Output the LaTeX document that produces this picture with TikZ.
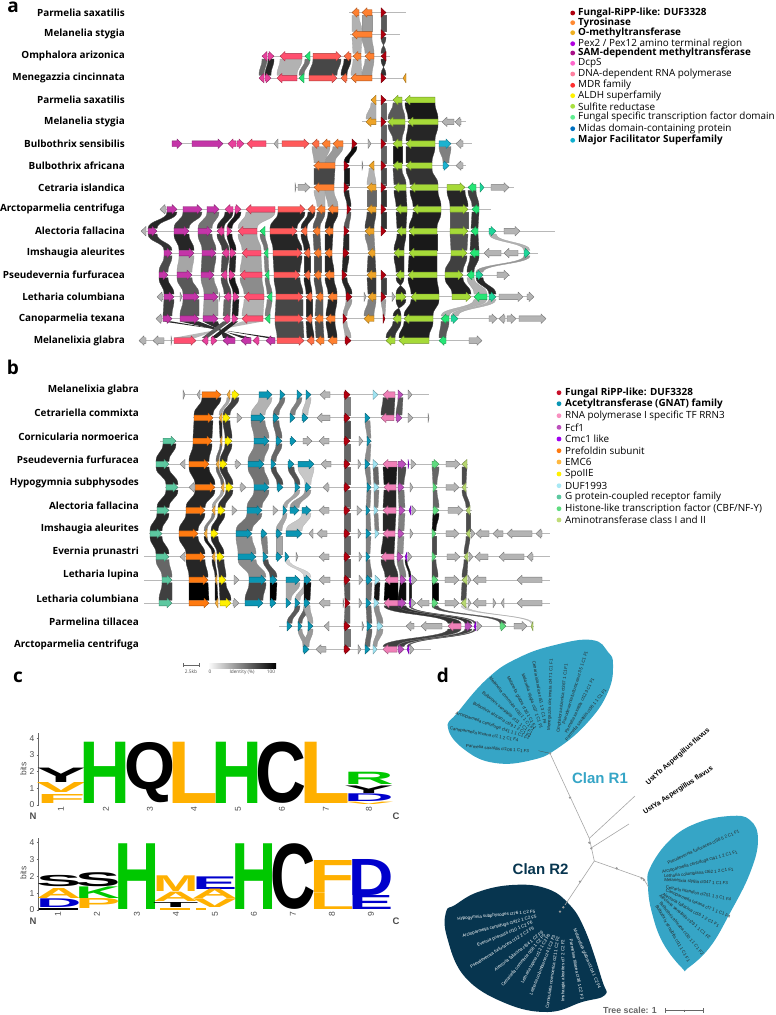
\documentclass[tikz,border=0pt]{standalone}
\usepackage{fontspec}
\usepackage{graphicx}
\setmainfont{Open Sans}
\newfontfamily\logofont{Liberation Sans}
\definecolor{duf}{HTML}{B0000F}
\definecolor{tyr}{HTML}{FF8030}
\definecolor{ora}{HTML}{FF6F45}
\definecolor{omt}{HTML}{EEA428}
\definecolor{sam}{HTML}{C435A8}
\definecolor{dcp}{HTML}{E8409C}
\definecolor{rna}{HTML}{FF4F70}
\definecolor{mdr}{HTML}{FF5A5A}
\definecolor{grn}{HTML}{25E675}
\definecolor{sul}{HTML}{A6DA38}
\definecolor{mfs}{HTML}{1CB2D0}
\definecolor{mid}{HTML}{1FD69A}
\definecolor{gry}{HTML}{B4B4B4}
\definecolor{gpc}{HTML}{5CC8A0}
\definecolor{pfd}{HTML}{FF7A10}
\definecolor{emc}{HTML}{F8B040}
\definecolor{spo}{HTML}{FFF000}
\definecolor{gna}{HTML}{0A96B4}
\definecolor{cya}{HTML}{A0E4F2}
\definecolor{rrn}{HTML}{F080B8}
\definecolor{fcf}{HTML}{BC50BC}
\definecolor{cmc}{HTML}{A000F0}
\definecolor{his}{HTML}{60DC80}
\definecolor{ami}{HTML}{B8D870}
\definecolor{clanone}{HTML}{36A5C6}
\definecolor{clantwo}{HTML}{07354F}
\definecolor{lgreen}{HTML}{00C800}
\definecolor{lgold}{HTML}{FFB000}
\definecolor{lblue}{HTML}{0000CC}
\tikzset{
  genebox/.style={line width=0.4pt, line join=round},
  rowln/.style={draw=black!28, line width=0.8pt},
  spname/.style={anchor=east, inner sep=0pt, font=\fontsize{9.9}{11}\selectfont\bfseries},
  leg/.style={anchor=west, inner sep=0pt, font=\fontsize{9.9}{11}\selectfont},
  legb/.style={leg, font=\fontsize{9.9}{11}\selectfont\bfseries},
  panel/.style={inner sep=0pt, font=\fontsize{19}{20}\selectfont\bfseries},
  ticknum/.style={inner sep=0pt, text=black!70, font=\logofont\fontsize{8.5}{9}\selectfont},
  tinynum/.style={inner sep=0pt, text=black!70, font=\fontsize{4.8}{5}\selectfont},
  endlabel/.style={inner sep=0pt, text=black!70, font=\logofont\bfseries\fontsize{9.5}{10}\selectfont},
  tipblack/.style={inner sep=0pt, text=black!85, font=\logofont\fontsize{4.4}{5}\selectfont},
  tipwhite/.style={inner sep=0pt, text=white, font=\logofont\fontsize{4.4}{5}\selectfont},
  treeln/.style={draw=black!35, line width=0.6pt},
}
\newif\ifgenepass
\newcommand{\gene}[4]{%
  \ifgenepass
  \pgfmathsetmacro\yy{\yzero+\ystep*#1}
  \pgfmathsetmacro\xh{#3-ifthenelse(#3>#2,1,-1)*min(5,abs(#3-#2))}
  \filldraw[genebox, fill=#4, draw=#4!65!black] (#2,\yy-2.8) -- (\xh,\yy-2.8) -- (\xh,\yy-4.8) -- (#3,\yy) -- (\xh,\yy+4.8) -- (\xh,\yy+2.8) -- (#2,\yy+2.8) -- cycle;
  \fi
}
\newcommand{\genes}[3]{\foreach \xa/\xb in {#3} {\gene{#1}{\xa}{\xb}{#2}}}
\newcommand{\band}[7]{%
  \ifgenepass\else
  \pgfmathsetmacro\ya{\yzero+\ystep*#1+2.8}
  \pgfmathsetmacro\yb{\yzero+\ystep*#4-2.8}
  \pgfmathsetmacro\ym{(\ya+\yb)/2}
  \filldraw[fill=black!#7, draw=black!#7!white!70!gray, line width=0.3pt] (#2,\ya) .. controls (#2,\ym) and (#5,\ym) .. (#5,\yb) -- (#6,\yb) .. controls (#6,\ym) and (#3,\ym) .. (#3,\ya) -- cycle;
  \fi
}
\newcommand{\sband}[7]{%
  \ifgenepass\else
  \pgfmathsetmacro\ya{\yzero+\ystep*#1+2.8}
  \pgfmathsetmacro\yb{\yzero+\ystep*#4-2.8}
  \fill[black!#7] (#2,\ya) -- (#5,\yb) -- (#6,\yb) -- (#3,\ya) -- cycle;
  \fi
}
\newcommand{\genecol}[3]{%
  \foreach \xa/\xb/\gr [count=\rw from #1, remember=\xa as \pxa, remember=\xb as \pxb, remember=\gr as \pgr, remember=\rw as \prw] in {#3} {
    \ifnum\rw>#1 \band{\prw}{\pxa}{\pxb}{\rw}{\xa}{\xb}{\pgr}\fi
    \gene{\rw}{\xa}{\xb}{#2}
  }
}
\newcommand{\rowlines}[1]{%
  \foreach \rw/\xa/\xb in {#1} {
    \pgfmathsetmacro\yy{\yzero+\ystep*\rw}
    \draw[rowln] (\xa,\yy) -- (\xb,\yy);
  }
}
\newcommand{\lch}[6]{%
  \pgfmathsetmacro\lh{#3-#4}
  \pgfmathsetmacro\lw{#2*1.16}
  \node[anchor=south west, inner sep=0pt, text=#6] (lg#1#5) at ({#1-#2*0.08},#3) {\resizebox*{\lw pt}{\lh pt}{\logofont\bfseries #5}};
}
\newcommand{\genesa}{%
\band{0}{359}{352}{1}{362}{352}{30}
\band{0}{372}{362}{1}{372}{362}{38}
\band{1}{362}{352}{2}{361}{353}{30}
\band{1}{372}{362}{2}{374}{365}{38}
\band{2}{361}{353}{3}{362}{351}{30}
\band{2}{374}{365}{3}{372}{362}{38}
\genes{0}{tyr}{359/352,372/362}
\genes{1}{tyr}{372/352}
\genes{2}{tyr}{361/353,374/365}
\genes{3}{tyr}{372/351}
\genes{3}{omt}{406/403}
\genecol{0}{duf}{381/386/65,381/386/72,386/381/80,381/386/0}
\genecol{2}{dcp}{267/262/60,264/259/0}
\genecol{2}{dcp}{268/274/85,265/271/0}
\genecol{2}{rna}{302/280/30,297/277/0}
\genecol{2}{grn}{310/305/55,304/299/0}
\genecol{2}{mdr}{313/341/72,309/337/0}
\genecol{2}{ora}{351/344/85,347/341/0}
\genecol{4}{omt}{376/371/32,376/366/0}
\genecol{7}{omt}{374/369/30,376/367/60,376/367/75,374/365/50,375/368/75,376/367/78,376/368/50,374/364/0}
\genecol{4}{duf}{381/386/60,381/386/62,381/386/62,381/386/70,381/386/80,381/386/80,381/386/0}
\genecol{12}{duf}{381/386/75,381/386/38,383/385/0}
\genecol{6}{duf}{352/357/95,344/349/90,344/349/85,347/351/65,344/349/85,343/349/85,342/347/85,346/352/40,343/347/35,345/351/0}
\genecol{4}{sul}{402/393/65,405/388/70,402/393/92,402/393/75,406/394/85,407/396/85,406/397/85,404/394/85,404/396/85,396/406/85,401/393/80,395/386/0}
\genecol{4}{sul}{435/405/90,438/408/85,435/406/85,432/406/80,438/410/88,441/413/88,437/409/90,437/409/90,437/408/90,439/411/88,433/404/88,429/399/0}
\genecol{8}{sul}{447/465/85,450/468/68,450/468/68,451/467/75,445/463/88,452/471/0}
\genecol{8}{grn}{476/468/75,479/472/80,478/471/80,479/470/80,474/467/30,487/474/30,449/441/65,446/439/0}
\genecol{10}{mid}{489/496/30,524/530/40,476/483/85,489/496/30,451/458/0}
\genes{8}{mid}{480/484}
\genecol{6}{mfs}{439/451/50,443/449/0}
\genecol{9}{sam}{167/177/85,148/157/80,164/172/70,159/168/85,164/174/75,163/172/0}
\genecol{9}{sam}{183/202/75,174/189/85,179/194/35,177/192/65,183/199/65,180/199/0}
\genecol{9}{sam}{207/219/55,198/212/65,202/216/65,201/214/50,204/218/40,203/218/0}
\genecol{9}{dcp}{233/225/85,224/217/75,229/222/70,227/221/70,231/224/60,230/223/0}
\genecol{9}{dcp}{235/241/90,227/232/90,230/236/85,229/235/90,233/239/88,232/238/0}
\genecol{9}{rna}{275/246/30,257/238/35,261/242/35,262/240/45,264/244/30,263/242/0}
\sband{14}{263}{242}{15}{174}{196}{28}
\sband{14}{163}{172}{15}{275}{266}{85}
\sband{14}{180}{199}{15}{251}{241}{82}
\sband{14}{203}{218}{15}{235}{223}{82}
\sband{14}{230}{223}{15}{208}{202}{65}
\sband{14}{232}{238}{15}{211}{217}{85}
\genes{15}{rna}{174/196}
\genes{15}{sam}{235/223,251/241,275/266}
\genes{15}{dcp}{208/202,211/217,259/253}
\genecol{10}{grn}{265/260/55,268/264/50,269/265/55,272/267/50,270/265/0}
\genecol{9}{mdr}{278/305/85,270/297/85,273/302/80,274/300/78,276/303/72,275/303/70,277/304/0}
\genecol{9}{ora}{315/308/85,307/301/85,310/304/85,310/304/88,312/306/85,312/306/85,314/307/0}
\genecol{9}{tyr}{325/317/65,320/313/65,321/314/70,321/314/70,323/316/65,323/315/70,324/316/0}
\genecol{9}{tyr}{338/328/85,333/325/85,332/325/85,334/325/85,337/328/85,335/326/85,337/328/0}
\band{6}{330}{312}{7}{325}{314}{35}
\band{6}{343}{333}{7}{335}{325}{40}
\band{7}{335}{314}{8}{334}{314}{72}
\band{8}{325}{314}{9}{325}{317}{30}
\band{8}{334}{325}{9}{338}{328}{35}
\genes{6}{sam}{172/182,192/223}
\genes{6}{dcp}{236/228,237/244}
\genes{6}{rna}{266/247}
\genes{6}{mdr}{282/309}
\genes{6}{ora}{319/312}
\genes{6}{tyr}{330/322,343/333}
\genes{7}{tyr}{335/314}
\genes{8}{tyr}{334/314}
\genes{5}{gry}{454/442,461/455}
\genes{6}{gry}{278/274,368/371,463/456}
\genes{7}{gry}{362/363,463/456}
\genes{8}{gry}{295/296,298/310,491/509}
\genes{9}{gry}{166/160}
\genes{10}{gry}{146/141,504/520}
\genes{11}{gry}{501/484,518/504}
\genes{12}{gry}{497/509}
\genes{13}{gry}{163/157,180/182,219/220,364/366,392/395,499/523,527/534}
\genes{14}{gry}{162/156,489/497,505/499,507/516,519/546}
\genes{15}{gry}{146/139,164/153,171/172,469/482}
}
\newcommand{\genesb}{%
\genecol{2}{gpc}{163/176/85,156/169/85,166/178/85,157/169/85,150/162/85,156/169/60,162/172/75,159/172/0}
\genecol{0}{pfd}{202/221/85,194/213/85,193/212/85,189/209/88,195/215/85,186/205/85,179/198/85,186/205/85,189/208/100,189/209/0}
\genecol{0}{emc}{230/227/35,222/219/85,222/220/60,219/216/60,224/221/35,215/212/50,207/204/90,215/212/85,217/215/95,218/215/0}
\genecol{0}{spo}{232/239/75,223/230/80,225/232/80,220/227/80,226/233/80,218/225/85,211/218/85,217/224/80,219/226/85,220/231/0}
\genecol{0}{gna}{259/272/30,251/265/50,254/269/50,248/264/55,254/269/55,247/262/55,236/252/45,238/256/45,249/266/72,245/263/0}
\genecol{0}{gna}{280/285/55,273/279/60,276/282/60,271/276/70,277/283/0}
\genecol{6}{gna}{261/267/50,263/268/70,270/277/100,270/276/0}
\band{0}{297}{302}{1}{290}{295}{50}
\band{0}{306}{311}{1}{302}{308}{25}
\band{3}{288}{294}{4}{295}{300}{68}
\band{3}{298}{314}{4}{305}{311}{22}
\band{4}{295}{300}{5}{283}{287}{35}
\band{4}{305}{311}{5}{290}{299}{40}
\band{5}{283}{287}{6}{276}{282}{35}
\band{5}{302}{311}{6}{286}{302}{22}
\band{6}{276}{282}{7}{276}{282}{35}
\band{7}{285}{289}{8}{304}{311}{18}
\band{8}{286}{300}{9}{286}{291}{35}
\band{8}{304}{311}{9}{295}{300}{30}
\band{8}{304}{311}{9}{304}{310}{95}
\band{9}{295}{300}{10}{287}{292}{65}
\band{9}{304}{310}{10}{298}{302}{62}
\band{9}{304}{310}{10}{308}{313}{35}
\band{10}{298}{302}{11}{303}{309}{40}
\band{10}{308}{313}{11}{303}{309}{40}
\genes{0}{gna}{297/302,306/311}
\genes{1}{gna}{290/295,302/308}
\genes{2}{gna}{290/296}
\genes{3}{gna}{288/294,298/314}
\genes{4}{gna}{295/300,305/311}
\genes{5}{gna}{283/287,290/299,302/311}
\genes{6}{gna}{276/282,286/302}
\genes{7}{gna}{276/282,285/289}
\genes{8}{gna}{286/300,304/311}
\genes{9}{gna}{286/291,295/300,304/310}
\genes{10}{gna}{287/292,298/302,308/313}
\genes{11}{gna}{303/309}
\genecol{0}{duf}{344/350/50,344/350/70,344/350/60,344/350/60,344/350/60,344/350/60,344/350/60,344/350/65,344/350/65,345/350/60,344/350/55,344/350/0}
\genecol{1}{gna}{365/370/45,367/371/45,365/370/50,367/371/50,366/370/50,366/371/50,366/370/55,366/372/55,366/371/60,367/372/60,365/370/0}
\genes{0}{cya}{373/378}
\genecol{3}{cya}{373/378/60,374/379/50,374/378/50,375/379/0}
\genecol{8}{cya}{375/380/92,374/379/45,377/383/40,373/377/0}
\genecol{0}{rrn}{395/383/75,394/381/0}
\genecol{3}{rrn}{397/383/90,396/384/85,396/383/85,395/383/85,394/381/80,398/385/100,398/384/80,461/448/75,397/383/0}
\genecol{0}{fcf}{398/403/65,396/402/0}
\genecol{3}{fcf}{398/406/70,398/404/55,399/405/50,398/404/45,397/403/50,400/406/95,398/406/80,465/472/75,398/404/0}
\genes{3}{cmc}{408/409}
\genes{5}{cmc}{411/409}
\genecol{7}{cmc}{407/405/90,411/409/90,411/409/70,476/474/70,409/407/0}
\genecol{3}{his}{432/439/60,433/437/60,433/439/95,432/436/70,432/436/70,432/438/100,432/438/70,500/506/0}
\genecol{3}{ami}{467/462/70,466/462/70,470/466/70,470/466/70,468/464/70,467/462/70,466/461/20,533/531/0}
\genes{0}{gry}{183/185,200/197,330/320,408/412}
\genes{1}{gry}{237/242,330/317,408/413,428/429}
\genes{2}{gry}{359/363,303/312,329/319}
\genes{3}{gry}{185/180,235/241,331/321,358/361,411/416,446/460}
\genes{4}{gry}{195/189,240/246,329/323,410/413,446/459}
\genes{5}{gry}{232/237,273/278,329/319,357/362,412/416,448/463}
\genes{6}{gry}{313/309,327/317,358/361,410/413,446/459,471/475,489/476,503/493,532/507,542/536}
\genes{7}{gry}{185/180,329/319,359/362,408/412,447/460,469/473,488/475,524/499,533/527,296/298}
\genes{8}{gry}{234/239,330/319,359/363,412/417,445/459,468/471,486/473,542/517}
\genes{9}{gry}{233/239,330/319,343/344,359/362,411/416,429/417,445/459,468/471,486/473,493/496,504/501,542/517}
\genes{10}{gry}{329/324,362/364,414/406,442/421,477/482,514/527}
\genes{11}{gry}{326/316,358/361,410/414}
}
\begin{document}
\begin{tikzpicture}[x=1pt, y=-1pt]
\useasboundingbox (0,0) rectangle (776,1015);
\node[panel] (pa) at (13,7.5) {a};
\def\yzero{12.5}
\def\ystep{21.87}
\foreach \nm [count=\i from 0] in {Parmelia saxatilis, Melanelia stygia, Omphalora arizonica, Menegazzia cincinnata, Parmelia saxatilis, Melanelia stygia, Bulbothrix sensibilis, Bulbothrix africana, Cetraria islandica, Arctoparmelia centrifuga, Alectoria fallacina, Imshaugia aleurites, Pseudevernia furfuracea, Letharia columbiana, Canoparmelia texana, Melanelixia glabra}
  \node[spname] (spa\i) at (125,{\yzero+\ystep*\i}) {\nm};
\rowlines{0/349/406,1/350/400,2/262/390,3/259/406,4/371/435,5/362/466,6/172/472,7/313/466,8/295/514,9/160/491,10/142/555,11/164/538,12/159/510,13/157/534,14/156/546,15/140/482}
\genepassfalse
\genesa
\genepasstrue
\genesa
\foreach \yl/\cl/\st/\tx [count=\i] in {13/B00010/legb/{Fungal-RiPP-like: DUF3328},22.7/FF8A33/legb/{Tyrosinase},32.7/EEB020/legb/{O-methyltransferase},43.7/B000E0/leg/{Pex2 / Pex12 amino terminal region},53/A81088/legb/{SAM-dependent methyltransferase},63.3/FF66CC/leg/{DcpS},74/FF80A0/leg/{DNA-dependent RNA polymerase},85.3/FF3030/leg/{MDR family},95.7/FFF000/leg/{ALDH superfamily},106.3/A8E040/leg/{Sulfite reductase},117.3/60EE90/leg/{Fungal specific transcription factor domain},128.7/0070C0/leg/{Midas domain-containing protein},140.3/10B0D0/legb/{Major Facilitator Superfamily}} {
  \definecolor{dotc}{HTML}{\cl}
  \fill[dotc] (572.7,\yl) circle (2.4pt);
  \node[\st] (lega\i) at (578,\yl) {\tx};
}
\node[panel] (pb) at (13,367) {b};
\def\yzero{394.7}
\def\ystep{23.15}
\foreach \nm [count=\i from 0] in {Melanelixia glabra, Cetrariella commixta, Cornicularia normoerica, Pseudevernia furfuracea, Hypogymnia subphysodes, Alectoria fallacina, Imshaugia aleurites, Evernia prunastri, Letharia lupina, Letharia columbiana, Parmelina tillacea, Arctoparmelia centrifuga}
  \node[spname] (spb\i) at (139,{390+23.15*\i}) {\nm};
\rowlines{0/183/429,1/193/429,2/160/372,3/156/468,4/165/468,5/150/472,6/149/550,7/144/550,8/144/550,9/144/550,10/279/534,11/303/431}
\genepassfalse
\genesb
\genepasstrue
\genesb
\foreach \yl/\cl/\st/\tx [count=\i] in {392.7/C8102A/legb/{Fungal RiPP-like: DUF3328},403.7/0A96B4/legb/{Acetyltransferase (GNAT) family},415.7/F890C0/leg/{RNA polymerase I specific TF RRN3},427.3/BC50BC/leg/{Fcf1},439/A000F0/leg/{Cmc1 like},450.7/FF7A10/leg/{Prefoldin subunit},462/FFB840/leg/{EMC6},474/FFF000/leg/{SpoIIE},485.7/A8E8F4/leg/{DUF1993},497/5CC8A0/leg/{G protein-coupled receptor family},508.7/60DC80/leg/{Histone-like transcription factor (CBF/NF-Y)},520/C0DC78/leg/{Aminotransferase class I and II}} {
  \definecolor{dotc}{HTML}{\cl}
  \fill[dotc] (559,\yl) circle (2.4pt);
  \node[\st] (legb\i) at (565,\yl) {\tx};
}
\coordinate (barl) at (183,665);
\coordinate (barr) at (199,665);
\draw[black!60, line width=0.4pt] (barl) -- (barr);
\draw[black!60, line width=0.4pt] (183,663) -- (183,667) (199,663) -- (199,667);
\node[tinynum] (kb) at (191,672) {2.5kb};
\shade[left color=white, right color=black] (208,663) rectangle (276,668);
\node[tinynum] (idz) at (210,672) {0};
\node[tinynum] (idt) at (242,672) {Identity (\%)};
\node[tinynum] (idh) at (271,672) {100};
\node[panel] (pc) at (18,677) {c};
\draw[black!60, line width=0.5pt] (38.7,733.3) -- (38.7,805);
\foreach \lb/\yt in {0/805,1/788.3,2/771.7,3/755,4/738.3} {
  \draw[black!60, line width=0.5pt] (36.5,\yt) -- (38.7,\yt);
  \node[ticknum] (tka\lb) at (32,\yt) {\lb};
}
\node[ticknum, rotate=90] (bitsa) at (23.3,769) {bits};
\node[endlabel] (na) at (33,816) {N};
\node[endlabel] (ca) at (396,816) {C};
\foreach \lb/\xt in {1/61,2/106,3/150,4/194,5/238,6/282,7/326,8/369}
  \node[ticknum, rotate=90] (posa\lb) at (\xt,809.5) {\lb};
\lch{39.5}{42.5}{782.7}{768.3}{Y}{black}
\lch{39.5}{42.5}{792.7}{782.7}{V}{lgold}
\lch{39.5}{42.5}{803.3}{794.3}{F}{lgold}
\lch{83}{44}{804}{742.7}{H}{lgreen}
\lch{127.5}{44}{803}{742.7}{Q}{black}
\lch{171}{44}{804}{742.7}{L}{lgold}
\lch{215}{44}{804}{742.7}{H}{lgreen}
\lch{258.5}{44}{804}{742.7}{C}{black}
\lch{303}{44}{804}{742.7}{L}{lgold}
\lch{347}{43}{785}{772.7}{R}{lgreen}
\lch{347}{43}{793.3}{785.7}{Y}{black}
\lch{347}{43}{801.7}{794}{D}{lblue}
\lch{347}{43}{804.7}{802.3}{V}{lgold}
\draw[black!60, line width=0.5pt] (38.7,838.3) -- (38.7,910);
\foreach \lb/\yt in {0/910,1/893.3,2/876.3,3/859.3,4/842.7} {
  \draw[black!60, line width=0.5pt] (36.5,\yt) -- (38.7,\yt);
  \node[ticknum] (tkb\lb) at (32,\yt) {\lb};
}
\node[ticknum, rotate=90] (bitsb) at (23.3,873) {bits};
\node[endlabel] (nb) at (33,921) {N};
\node[endlabel] (cb) at (396,921) {C};
\foreach \lb/\xt in {1/58,2/97,3/137,4/176,5/215,6/254,7/293,8/332,9/371}
  \node[ticknum, rotate=90] (posb\lb) at (\xt,914.5) {\lb};
\lch{39}{39}{887.3}{876}{S}{black}
\lch{39}{39}{898.3}{888.3}{A}{lgold}
\lch{39}{39}{907.7}{899}{D}{lblue}
\fill[black] (39,908) rectangle (78,910);
\lch{78}{39}{886.7}{872.7}{S}{black}
\lch{78}{39}{898.3}{886.7}{K}{lgreen}
\lch{78}{39}{909}{899}{P}{lgold}
\lch{117}{39}{910}{844.3}{H}{lgreen}
\lch{156}{39}{891.7}{876}{M}{lgold}
\lch{156}{39}{901.7}{892.3}{A}{lgold}
\lch{156}{39}{907.3}{902.3}{T}{black}
\fill[lgold] (160,908) rectangle (190,910);
\lch{195}{39}{889.3}{876.7}{E}{lblue}
\lch{195}{39}{898.7}{889.3}{A}{lgold}
\lch{195}{39}{908}{899.3}{V}{lgold}
\fill[lgold] (196,908) rectangle (206,910);
\lch{234}{39}{910}{844.3}{H}{lgreen}
\lch{273}{39}{910}{844.3}{C}{black}
\lch{312}{39}{892.7}{860.7}{F}{lgold}
\lch{312}{39}{910}{893.3}{L}{lgold}
\lch{351}{39}{895.3}{859.3}{D}{lblue}
\lch{351}{39}{910}{896}{E}{lblue}
\node[panel] (pd) at (443,675) {d};
\fill[clanone] plot[smooth cycle, tension=0.75] coordinates {(448,728) (458,712) (488,678) (518,658) (555,645) (592,640) (608,652) (613,665) (608,692) (588,722) (558,748) (532,760) (495,763) (465,750)};
\fill[clantwo] plot[smooth cycle, tension=0.7] coordinates {(446,912) (455,905) (478,892) (512,885) (545,888) (568,903) (585,930) (602,980) (605,995) (582,1002) (548,1012) (505,1003) (465,977) (447,937)};
\fill[clanone] plot[smooth cycle, tension=0.7] coordinates {(650,868) (670,840) (697,823) (730,816) (750,820) (758,840) (750,873) (730,913) (710,947) (688,968) (682,968) (663,943) (652,913) (648,887)};
\begin{scope}[shift={(445,635)}, x=0.3333pt, y=-0.3333pt]
\foreach \xs/\ys/\xe/\ye/\tx [count=\i] in {57/332/258/350/{Parmelia saxatilis ct106 1 C1 F3},10/280/225/318/{Canoparmelia texana ct1 1 2 C1 F4},35/235/250/310/{Arctoparmelia centrifuga ct41 1 1 C1 F1},83/202/260/305/{Bulbothrix africana ct29 1 2 C1 F1},113/170/262/298/{Bulbothrix sensibilis ct11 1 C1 F1},138/130/265/285/{Melanelia commixta ct30 1 1 C1 F1},187/122/272/285/{Melanelia glabra ct36 1 C1 F1},232/112/290/285/{Melanelia stygia ct37 1 C1 F1},267/80/300/265/{Cetraria islandica ct51 1 3 C1 F4},312/290/320/70/{Menegazzia cincinnata ct47 1 C1 F1},340/295/365/85/{Omphalora arizonica ct367 1 C1 F1},345/300/435/15/{Pseudevernia furfuracea ct3 5 1 C1 F1},360/300/447/125/{Parmelia saxatilis ct12 3 C1 F1},360/320/485/158/{Parmelia saxatilis ct36 1 1 C1 F1}}
  \path (\xs,\ys) -- (\xe,\ye) node[midway, sloped, tipblack] (tipa\i) {\tx};
\end{scope}
\begin{scope}[shift={(445,880)}, x=0.3333pt, y=-0.3333pt]
\foreach \xs/\ys/\xe/\ye/\tx [count=\i] in {30/118/278/95/{Hypogymnia subphysodes ct76 1 C2 F5},45/170/282/108/{Arctoparmelia centrifuga ct422 1 C2 F5},90/200/270/125/{Evernia prunastri ct10 1 C2 F6},55/275/288/130/{Pseudevernia furfuracea ct12 2 C2 F6},148/272/295/155/{Alectoria fallacina ct64 1 C2 F6},165/325/305/155/{Cetrariella commixta ct56 1 C2 F5},230/312/315/160/{Letharia lupina ct12 1 C2 F6},255/350/330/160/{Letharia columbiana ct4 1 C2 F3},305/395/340/160/{Cornicularia normoerica ct21 1 C2 F2},355/365/355/180/{Imshaugia aleurites ct7 2 C2 F2},412/355/378/180/{Parmelina tillacea ct36 1 C2 F3},465/330/387/145/{Melanelixia glabra ct104 1 C2 F4}}
  \path (\xs,\ys) -- (\xe,\ye) node[midway, sloped, tipwhite] (tipb\i) {\tx};
\end{scope}
\begin{scope}[shift={(430,660)}, x=0.3333pt, y=-0.3333pt]
\foreach \xs/\ys/\xe/\ye/\tx [count=\i] in {682/622/958/500/{Pseudevernia furfuracea ct58 5 2 C1 F1},690/640/930/575/{Arctoparmelia centrifuga ct41 1 2 C1 F1},695/650/918/628/{Letharia columbiana ct62 1 2 C1 F1},700/660/897/672/{Melanelixia stygia ct047 1 C1 F3},703/680/908/720/{Cetraria islandica ct251 1 3 C1 F4},703/690/905/773/{Canoparmelia texana ct7 1 1 C1 F4},695/700/870/800/{Alectoria fallacina ct16 1 2 C1 F1},690/705/840/835/{Alectoria sensibilis ct29 1 1 C1 F2},685/720/825/890/{Bulbothrix africana ct30 1 1 C1 F2},677/730/780/910/{Bulbothrix sensibilis ct11 1 C1 F1}}
  \path (\xs,\ys) -- (\xe,\ye) node[midway, sloped, tipblack] (tipc\i) {\tx};
\coordinate (treeroot) at (493,603);
\coordinate (nodea) at (478,535);
\coordinate (nodeb) at (485,563);
\coordinate (ronetip) at (360,280);
\coordinate (ybtip) at (615,408);
\coordinate (yatip) at (597,492);
\coordinate (rtwotip) at (405,735);
\coordinate (rthreemid) at (640,655);
\coordinate (rthreetip) at (655,680);
\draw[treeln] (treeroot) -- (nodea) -- (ronetip);
\draw[treeln] (nodea) -- (ybtip);
\draw[treeln] (nodeb) -- (yatip);
\draw[treeln] (treeroot) -- (rtwotip);
\draw[treeln] (treeroot) -- (rthreemid) -- (rthreetip);
\draw[black!70, line width=0.3pt] (ronetip) -- (325,272);
\foreach \xd/\yd in {420/413,478/548,484/565,450/665,560/625,635/655,642/660,400/742,360/280,390/755}
  \fill[black!40] (\xd,\yd) circle (1.3pt);
\path (648,375) -- (840,205) node[midway, sloped, inner sep=0pt, font=\logofont\bfseries\fontsize{7}{8}\selectfont] (ustb) {UstYb Aspergillus flavus};
\path (638,462) -- (852,322) node[midway, sloped, inner sep=0pt, font=\logofont\bfseries\fontsize{7}{8}\selectfont] (usta) {UstYa Aspergillus flavus};
\node[inner sep=0pt, text=clanone, font=\logofont\bfseries\fontsize{15}{16}\selectfont] (clanr1) at (510,355) {Clan R1};
\node[inner sep=0pt, text=clantwo, font=\logofont\bfseries\fontsize{15}{16}\selectfont] (clanr2) at (332,628) {Clan R2};
\node[inner sep=0pt, text=black!60, font=\logofont\bfseries\fontsize{8.8}{9}\selectfont] (tsc) at (600,1052) {Tree scale: 1};
\draw[black!60, line width=0.5pt] (707,1052) -- (820,1052);
\draw[black!60, line width=0.5pt] (707,1045) -- (707,1059) (820,1045) -- (820,1059) (764,1049) -- (764,1055);
\end{scope}
\end{tikzpicture}
\end{document}
